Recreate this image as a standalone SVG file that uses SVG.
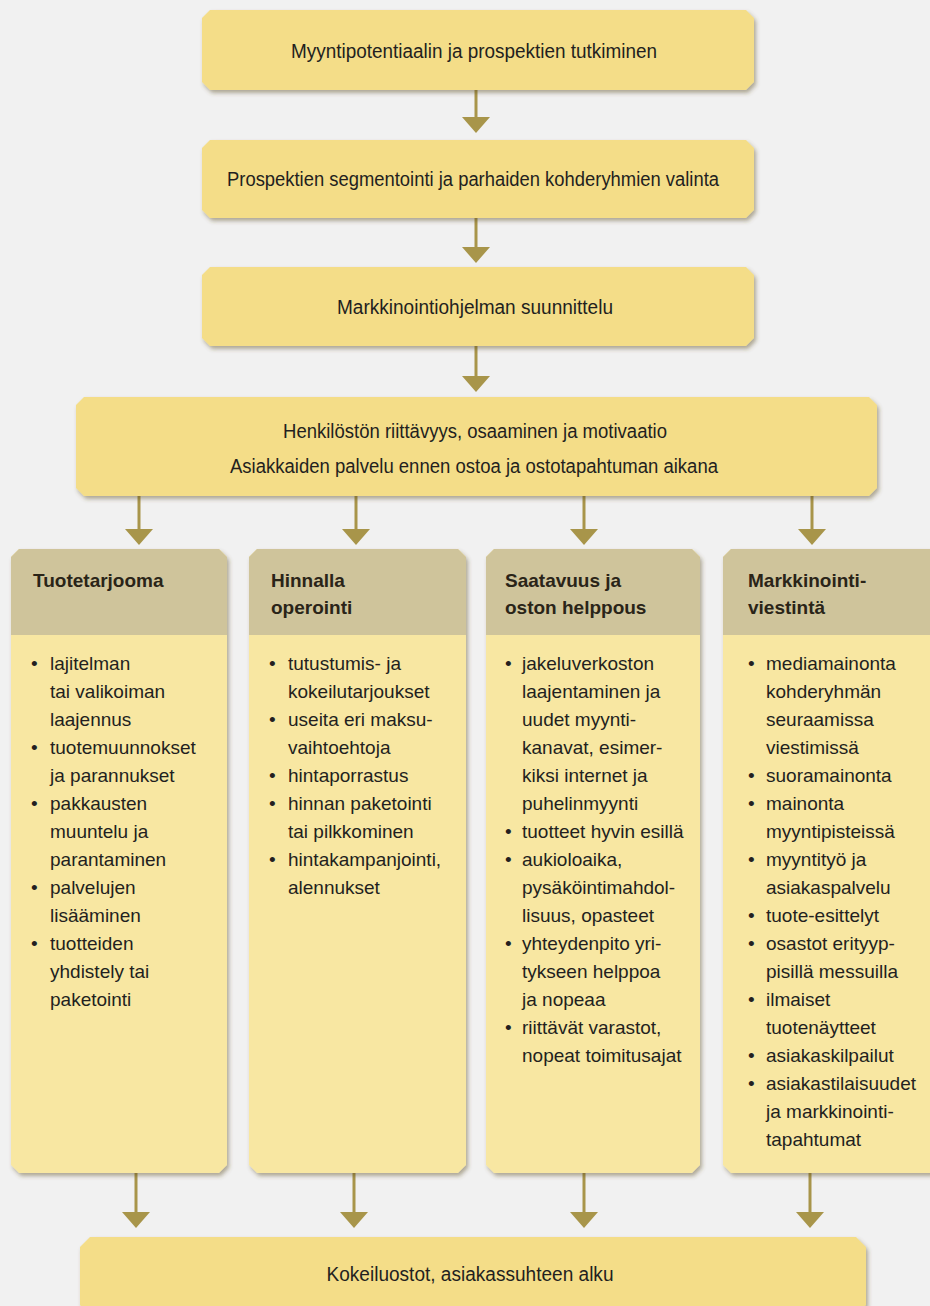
<svg xmlns="http://www.w3.org/2000/svg" width="930" height="1306" viewBox="0 0 930 1306">
<defs>
<filter id="sh" x="-5%" y="-5%" width="115%" height="120%">
<feDropShadow dx="2" dy="3" stdDeviation="2" flood-color="#5a4a20" flood-opacity="0.45"/>
</filter>
<marker id="ah" viewBox="0 0 28 16" refX="14" refY="8" markerWidth="28" markerHeight="16" markerUnits="userSpaceOnUse" orient="0">
<path d="M0,0 L28,0 L14,16 Z" fill="#a8954a"/>
</marker>
</defs>
<style>
.box{fill:#f4dd88;filter:url(#sh)}
.body{fill:#f8e7a2;filter:url(#sh)}
.head{fill:#cfc49b}
.t{font-family:"Liberation Sans",Arial,sans-serif;font-size:20px;fill:#231f20;text-anchor:middle}
.h{font-family:"Liberation Sans",Arial,sans-serif;font-size:19px;font-weight:bold;fill:#2a2418}
.b{font-family:"Liberation Sans",Arial,sans-serif;font-size:19px;fill:#231f20}
.ar{stroke:#a8954a;stroke-width:3;fill:none}
</style>
<rect width="930" height="1306" fill="#f1f1f1"/>

<g id="connectors">
<line class="ar" x1="476" y1="90" x2="476" y2="125" marker-end="url(#ah)"/>
<line class="ar" x1="476" y1="218" x2="476" y2="255" marker-end="url(#ah)"/>
<line class="ar" x1="476" y1="346" x2="476" y2="384" marker-end="url(#ah)"/>
<line class="ar" x1="139" y1="496" x2="139" y2="537" marker-end="url(#ah)"/>
<line class="ar" x1="356" y1="496" x2="356" y2="537" marker-end="url(#ah)"/>
<line class="ar" x1="584" y1="496" x2="584" y2="537" marker-end="url(#ah)"/>
<line class="ar" x1="812" y1="496" x2="812" y2="537" marker-end="url(#ah)"/>
<line class="ar" x1="136" y1="1173" x2="136" y2="1220" marker-end="url(#ah)"/>
<line class="ar" x1="354" y1="1173" x2="354" y2="1220" marker-end="url(#ah)"/>
<line class="ar" x1="584" y1="1173" x2="584" y2="1220" marker-end="url(#ah)"/>
<line class="ar" x1="810" y1="1173" x2="810" y2="1220" marker-end="url(#ah)"/>
</g>

<g id="n1">
<polygon class="box" points="210,10 746,10 754,18 754,82 746,90 210,90 202,82 202,18"/>
<text class="t" x="474" y="58" textLength="366" lengthAdjust="spacingAndGlyphs">Myyntipotentiaalin ja prospektien tutkiminen</text>
</g>
<g id="n2">
<polygon class="box" points="210,140 746,140 754,148 754,210 746,218 210,218 202,210 202,148"/>
<text class="t" x="473" y="186" textLength="492" lengthAdjust="spacingAndGlyphs">Prospektien segmentointi ja parhaiden kohderyhmien valinta</text>
</g>
<g id="n3">
<polygon class="box" points="210,267 746,267 754,275 754,338 746,346 210,346 202,338 202,275"/>
<text class="t" x="475" y="314" textLength="276" lengthAdjust="spacingAndGlyphs">Markkinointiohjelman suunnittelu</text>
</g>
<g id="n4">
<polygon class="box" points="84,397 869,397 877,405 877,488 869,496 84,496 76,488 76,405"/>
<text class="t" x="475" y="438" textLength="384" lengthAdjust="spacingAndGlyphs">Henkilöstön riittävyys, osaaminen ja motivaatio</text>
<text class="t" x="474" y="473" textLength="488" lengthAdjust="spacingAndGlyphs">Asiakkaiden palvelu ennen ostoa ja ostotapahtuman aikana</text>
</g>

<g id="c1">
<polygon class="body" points="19,549 219,549 227,557 227,1165 219,1173 19,1173 11,1165 11,557"/>
<polygon class="head" points="19,549 219,549 227,557 227,635 11,635 11,557"/>
<text class="h" x="33" y="587">Tuotetarjooma</text>
<g class="b">
<text x="31" y="670">•</text><text x="50" y="670">lajitelman</text>
<text x="50" y="698">tai valikoiman</text>
<text x="50" y="726">laajennus</text>
<text x="31" y="754">•</text><text x="50" y="754">tuotemuunnokset</text>
<text x="50" y="782">ja parannukset</text>
<text x="31" y="810">•</text><text x="50" y="810">pakkausten</text>
<text x="50" y="838">muuntelu ja</text>
<text x="50" y="866">parantaminen</text>
<text x="31" y="894">•</text><text x="50" y="894">palvelujen</text>
<text x="50" y="922">lisääminen</text>
<text x="31" y="950">•</text><text x="50" y="950">tuotteiden</text>
<text x="50" y="978">yhdistely tai</text>
<text x="50" y="1006">paketointi</text>
</g>
</g>

<g id="c2">
<polygon class="body" points="257,549 458,549 466,557 466,1165 458,1173 257,1173 249,1165 249,557"/>
<polygon class="head" points="257,549 458,549 466,557 466,635 249,635 249,557"/>
<text class="h" x="271" y="587">Hinnalla</text>
<text class="h" x="271" y="614">operointi</text>
<g class="b">
<text x="269" y="670">•</text><text x="288" y="670">tutustumis- ja</text>
<text x="288" y="698">kokeilutarjoukset</text>
<text x="269" y="726">•</text><text x="288" y="726">useita eri maksu-</text>
<text x="288" y="754">vaihtoehtoja</text>
<text x="269" y="782">•</text><text x="288" y="782">hintaporrastus</text>
<text x="269" y="810">•</text><text x="288" y="810">hinnan paketointi</text>
<text x="288" y="838">tai pilkkominen</text>
<text x="269" y="866">•</text><text x="288" y="866">hintakampanjointi,</text>
<text x="288" y="894">alennukset</text>
</g>
</g>

<g id="c3">
<polygon class="body" points="494,549 692,549 700,557 700,1165 692,1173 494,1173 486,1165 486,557"/>
<polygon class="head" points="494,549 692,549 700,557 700,635 486,635 486,557"/>
<text class="h" x="505" y="587">Saatavuus ja</text>
<text class="h" x="505" y="614">oston helppous</text>
<g class="b">
<text x="505" y="670">•</text><text x="522" y="670">jakeluverkoston</text>
<text x="522" y="698">laajentaminen ja</text>
<text x="522" y="726">uudet myynti-</text>
<text x="522" y="754">kanavat, esimer-</text>
<text x="522" y="782">kiksi internet ja</text>
<text x="522" y="810">puhelinmyynti</text>
<text x="505" y="838">•</text><text x="522" y="838">tuotteet hyvin esillä</text>
<text x="505" y="866">•</text><text x="522" y="866">aukioloaika,</text>
<text x="522" y="894">pysäköintimahdol-</text>
<text x="522" y="922">lisuus, opasteet</text>
<text x="505" y="950">•</text><text x="522" y="950">yhteydenpito yri-</text>
<text x="522" y="978">tykseen helppoa</text>
<text x="522" y="1006">ja nopeaa</text>
<text x="505" y="1034">•</text><text x="522" y="1034">riittävät varastot,</text>
<text x="522" y="1062">nopeat toimitusajat</text>
</g>
</g>

<g id="c4">
<polygon class="body" points="731,549 932,549 940,557 940,1165 932,1173 731,1173 723,1165 723,557"/>
<polygon class="head" points="731,549 932,549 940,557 940,635 723,635 723,557"/>
<text class="h" x="748" y="587">Markkinointi-</text>
<text class="h" x="748" y="614">viestintä</text>
<g class="b">
<text x="748" y="670">•</text><text x="766" y="670">mediamainonta</text>
<text x="766" y="698">kohderyhmän</text>
<text x="766" y="726">seuraamissa</text>
<text x="766" y="754">viestimissä</text>
<text x="748" y="782">•</text><text x="766" y="782">suoramainonta</text>
<text x="748" y="810">•</text><text x="766" y="810">mainonta</text>
<text x="766" y="838">myyntipisteissä</text>
<text x="748" y="866">•</text><text x="766" y="866">myyntityö ja</text>
<text x="766" y="894">asiakaspalvelu</text>
<text x="748" y="922">•</text><text x="766" y="922">tuote-esittelyt</text>
<text x="748" y="950">•</text><text x="766" y="950">osastot erityyp-</text>
<text x="766" y="978">pisillä messuilla</text>
<text x="748" y="1006">•</text><text x="766" y="1006">ilmaiset</text>
<text x="766" y="1034">tuotenäytteet</text>
<text x="748" y="1062">•</text><text x="766" y="1062">asiakaskilpailut</text>
<text x="748" y="1090">•</text><text x="766" y="1090">asiakastilaisuudet</text>
<text x="766" y="1118">ja markkinointi-</text>
<text x="766" y="1146">tapahtumat</text>
</g>
</g>

<g id="n5">
<polygon class="box" points="90,1237 856,1237 866,1247 866,1305 856,1315 90,1315 80,1305 80,1247"/>
<text class="t" x="470" y="1281" textLength="287" lengthAdjust="spacingAndGlyphs">Kokeiluostot, asiakassuhteen alku</text>
</g>
</svg>
